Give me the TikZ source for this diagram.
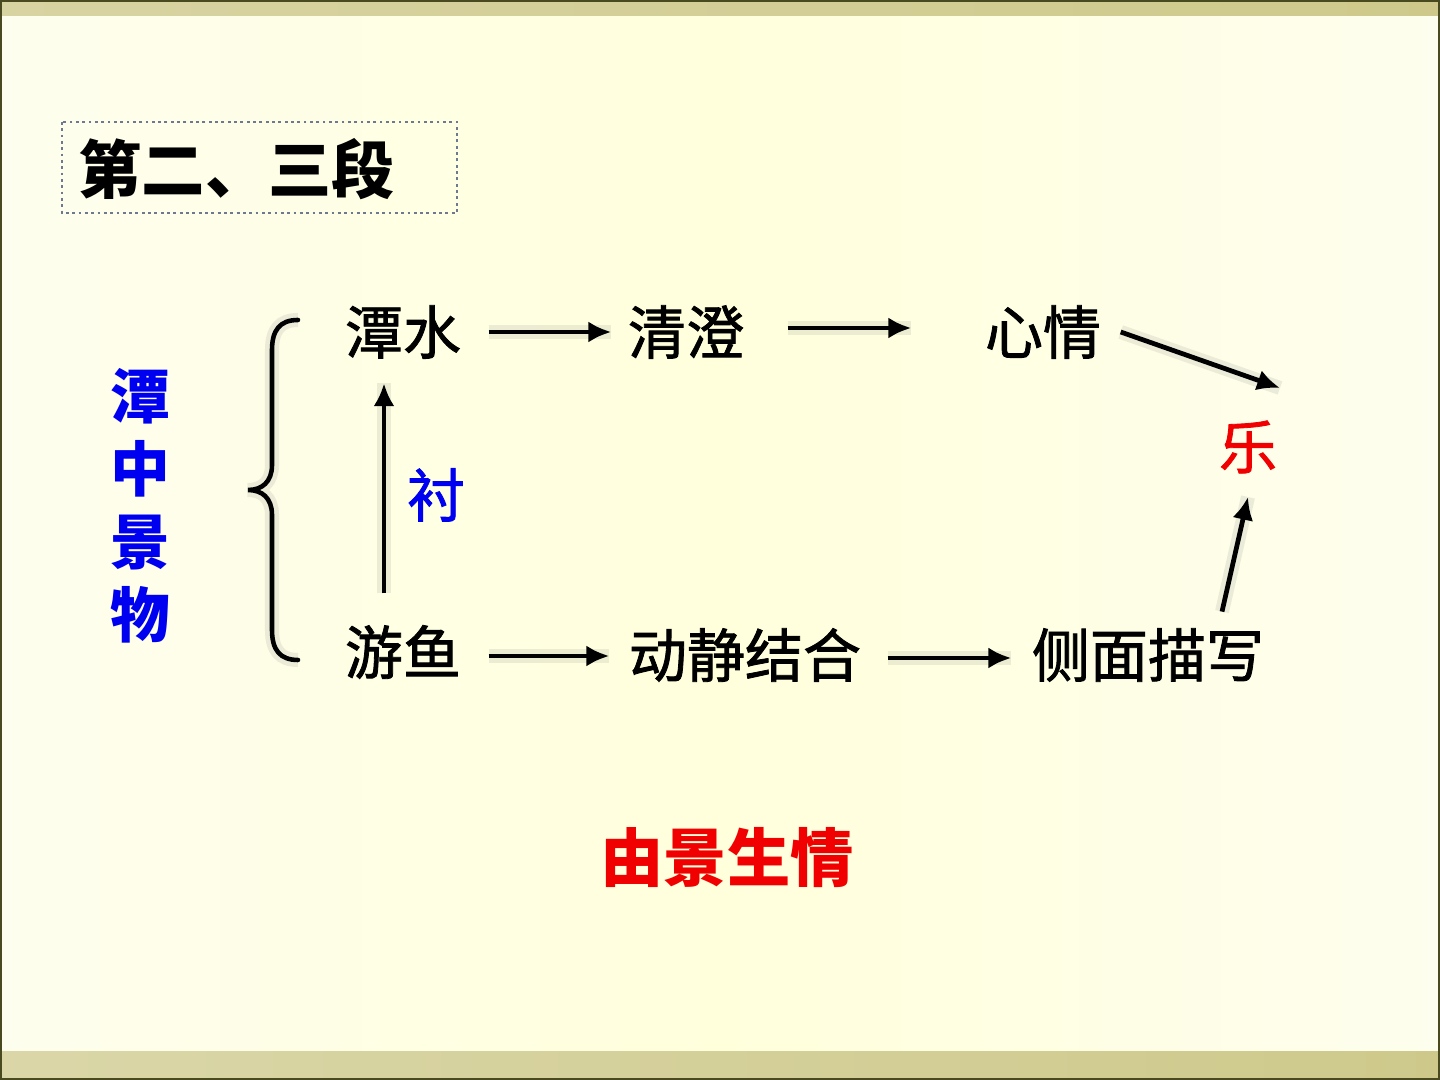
\documentclass[tikz,border=0pt]{standalone}
\usepackage{fontspec}
\newfontfamily\cjk{Noto Sans CJK SC}
\newfontfamily\cjkm[FakeBold=1.4]{Noto Sans CJK SC}
\usetikzlibrary{arrows.meta}
\definecolor{bgout}{HTML}{FEFEEE}
\definecolor{bgin}{HTML}{FFFFDC}
\definecolor{barc}{HTML}{CEC98B}
\definecolor{edge}{HTML}{4A4A20}
\definecolor{boxc}{HTML}{6E7890}
\definecolor{tblue}{HTML}{0000F0}
\definecolor{tred}{HTML}{F00000}
\tikzset{
  lbl/.style={font=\cjkm\fontsize{16.5}{18}\selectfont, inner sep=0pt, text=black},
  arr/.style={line width=1.35pt, -{Latex[length=6.5pt,width=6pt]},
    preaction={draw=black!60, line width=4pt, opacity=0.12, -}},
  bracestyle/.style={line width=1.3pt, line cap=round,
    preaction={draw=black!60, line width=4pt, opacity=0.12}}
}
\begin{document}
\begin{tikzpicture}
\useasboundingbox (0,0) rectangle (14.4,10.8);
% background
\shade[left color=bgout, right color=bgout, middle color=bgin] (0,0) rectangle (14.4,10.8);
\shade[left color=barc!80!white, right color=barc] (0,10.64) rectangle (14.4,10.8);
\shade[left color=barc!75!white, right color=barc] (0,0) rectangle (14.4,0.28);
\draw[edge, line width=0.6pt] (0.01,0.01) rectangle (14.39,10.79);

% title
\draw[densely dotted, color=boxc, line width=0.8pt] (0.62,9.58) rectangle (4.57,8.67);
\node[anchor=west, inner sep=0pt, font=\cjk\bfseries\fontsize{18}{20}\selectfont] (title) at (0.78,9.11) {第二、三段};

% left vertical label
\node[inner sep=0pt, align=center, text=tblue, font=\cjk\bfseries\fontsize{17}{20.8}\selectfont] (tanzhong) at (1.40,5.74) {潭\\中\\景\\物};

% brace
\draw[bracestyle] (2.98,7.60) .. controls (2.80,7.60) and (2.72,7.50) .. (2.72,7.30)
  -- (2.72,6.15) .. controls (2.72,5.98) and (2.62,5.90) .. (2.48,5.90)
  .. controls (2.62,5.90) and (2.72,5.82) .. (2.72,5.65)
  -- (2.72,4.50) .. controls (2.72,4.30) and (2.80,4.20) .. (2.98,4.20);

% nodes
\node[lbl] (tanshui) at (4.03,7.48) {潭水};
\node[lbl] (qingcheng) at (6.86,7.48) {清澄};
\node[lbl] (xinqing) at (10.43,7.48) {心情};
\node[lbl] (youyu) at (4.03,4.28) {游鱼};
\node[lbl] (dongjing) at (7.45,4.25) {动静结合};
\node[lbl] (cemian) at (11.48,4.25) {侧面描写};
\node[lbl, text=tred] (le) at (12.48,6.33) {乐};
\node[lbl, text=tblue] (chen) at (4.36,5.85) {衬};
\node[inner sep=0pt, text=tred, font=\cjk\bfseries\fontsize{18}{20}\selectfont] (youjing) at (7.27,2.22) {由景生情};

% arrows
\draw[arr, shorten <=0.27cm, shorten >=0.16cm] (tanshui.east) -- (qingcheng.west);
\draw[arr, shorten <=0.43cm, shorten >=0.73cm] ([yshift=0.04cm]qingcheng.east) -- ([yshift=0.04cm]xinqing.west);
\draw[arr] ([xshift=0.19cm]xinqing.east) -- ([xshift=0.32cm,yshift=0.59cm]le.center);
\draw[arr, shorten <=0.27cm, shorten >=0.19cm] ([yshift=-0.04cm]youyu.east) -- ([yshift=-0.04cm]youyu.east -| dongjing.west);
\draw[arr, shorten <=0.26cm, shorten >=0.20cm] ([yshift=-0.03cm]dongjing.east) -- ([yshift=-0.03cm]cemian.west);
\draw[arr] ([xshift=0.74cm,yshift=0.16cm]cemian.north) -- ([yshift=-0.23cm]le.south);
\draw[arr, shorten <=0.31cm, shorten >=0.24cm] ([xshift=-0.19cm]youyu.north) -- ([xshift=-0.19cm]tanshui.south);
\end{tikzpicture}
\end{document}
